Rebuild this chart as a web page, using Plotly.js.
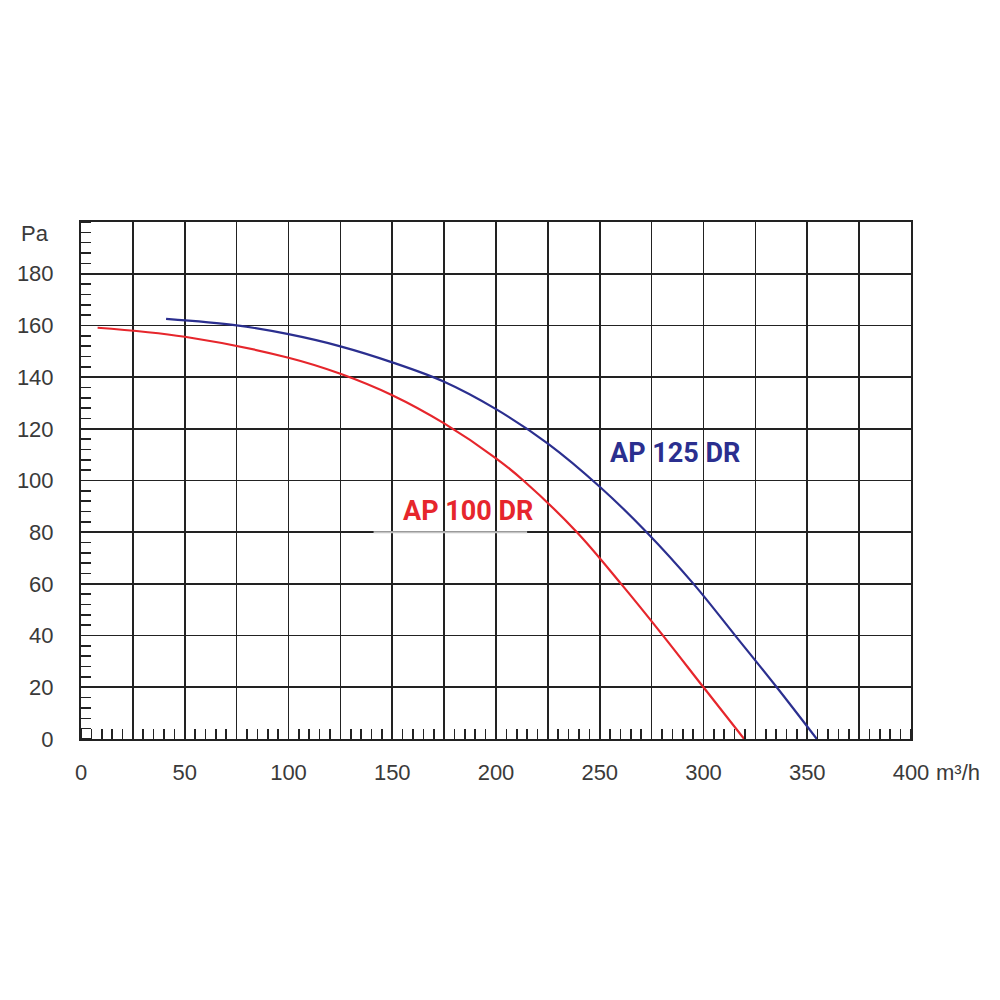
<!DOCTYPE html>
<html>
<head>
<meta charset="utf-8">
<script src="https://cdn.plot.ly/plotly-3.0.1.min.js"></script>
<style>
  html, body { margin: 0; padding: 0; background: #fff; }
  #chart { width: 1000px; height: 1000px; }
</style>
</head>
<body>
<div id="chart"></div>
<script>
  // airflow (m3/h) vs static pressure (Pa)
  const ap100Flow = [8, 50, 100, 125, 150, 175, 200, 213.2, 239, 260.3, 280.5, 300, 319.6];
  const ap100Pa   = [159.1, 155.6, 147.5, 141.3, 133, 122.1, 108.6, 100, 80, 60, 40, 20, 0];

  const ap125Flow = [41, 75, 100, 125, 150, 175, 200, 225, 250, 272.6, 295.2, 315.3, 335.3, 354.6];
  const ap125Pa   = [162.5, 160, 156.6, 151.9, 145.7, 138.2, 127.6, 114.3, 97.6, 80, 60, 40, 20, 0];

  const xTicks = [0, 25, 50, 75, 100, 125, 150, 175, 200, 225, 250, 275, 300, 325, 350, 375, 400];
  const xTickText = ['0', '', '50', '', '100', '', '150', '', '200', '', '250', '', '300', '', '350', '', '400'];
  const yTicks = [0, 20, 40, 60, 80, 100, 120, 140, 160, 180, 200];
  const yTickText = ['0', '20', '40', '60', '80', '100', '120', '140', '160', '180', ''];

  const red = '#e6262c';
  const blue = '#2b2f8f';
  const gridColor = '#222';
  const tickFont = {family: 'Liberation Sans, Arial, sans-serif', size: 22, color: '#3a3a3a'};
  const labelFont = {family: 'Roboto, sans-serif', size: 27, weight: 700};

  const traces = [
    {x: ap100Flow, y: ap100Pa, mode: 'lines', line: {color: red, width: 2.2, shape: 'spline', smoothing: 1}, hoverinfo: 'skip'},
    {x: ap125Flow, y: ap125Pa, mode: 'lines', line: {color: blue, width: 2.2, shape: 'spline', smoothing: 1}, hoverinfo: 'skip'}
  ];

  const layout = {
    width: 1000, height: 1000,
    autosize: false,
    showlegend: false,
    paper_bgcolor: '#fff',
    plot_bgcolor: '#fff',
    margin: {l: 81, r: 89, t: 222, b: 261, pad: 0},
    xaxis: {
      range: [0, 400],
      tickvals: xTicks,
      ticktext: xTickText,
      ticks: '',
      showgrid: true, gridcolor: gridColor, gridwidth: 1.7,
      showline: true, linecolor: gridColor, linewidth: 2, mirror: true,
      zeroline: false,
      tickfont: tickFont,
      ticklabelstandoff: 13,
      minor: {dtick: 5, ticks: 'inside', ticklen: 10, tickcolor: gridColor, tickwidth: 1.6, showgrid: false}
    },
    yaxis: {
      range: [0, 200],
      tickvals: yTicks,
      ticktext: yTickText,
      ticks: '',
      showgrid: true, gridcolor: gridColor, gridwidth: 1.7,
      showline: true, linecolor: gridColor, linewidth: 2, mirror: true,
      zeroline: false,
      tickfont: tickFont,
      ticklabelstandoff: 21,
      minor: {dtick: 4, ticks: 'inside', ticklen: 10, tickcolor: gridColor, tickwidth: 1.6, showgrid: false}
    },
    shapes: [
      {type: 'line', xref: 'x', yref: 'y', x0: 141, x1: 215, y0: 80, y1: 80, line: {color: '#c4c4c4', width: 2}, layer: 'above'}
    ],
    annotations: [
      {xref: 'paper', yref: 'paper', x: (35 - 81) / 830, y: (739 - 233) / 517,
       text: 'Pa', showarrow: false, xanchor: 'center', yanchor: 'middle', font: tickFont},
      {xref: 'paper', yref: 'paper', x: (934 - 81) / 830, y: (739 - 772) / 517,
       text: 'm³/h', showarrow: false, xanchor: 'left', yanchor: 'middle', font: tickFont},
      {xref: 'x', yref: 'y', x: 186.3, y: 88.2, text: 'AP 100 DR', showarrow: false,
       xanchor: 'center', yanchor: 'middle', font: Object.assign({color: red}, labelFont)},
      {xref: 'x', yref: 'y', x: 286.3, y: 110.5, text: 'AP 125 DR', showarrow: false,
       xanchor: 'center', yanchor: 'middle', font: Object.assign({color: blue}, labelFont)}
    ]
  };

  Plotly.newPlot('chart', traces, layout, {staticPlot: true, displayModeBar: false});
</script>
</body>
</html>
